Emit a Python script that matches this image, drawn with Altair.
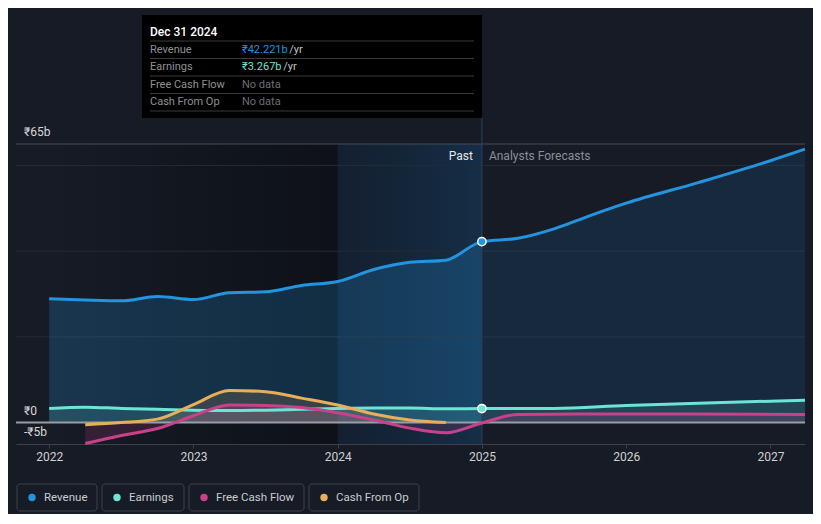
import altair as alt
import pandas as pd

# ---------------- data ----------------
rev_past_years = [2022.0, 2022.25, 2022.5, 2022.75, 2023.0, 2023.25, 2023.5, 2023.75,
                  2024.0, 2024.25, 2024.5, 2024.75, 2025.0]
rev_past = [28.9, 28.6, 28.4, 29.4, 28.7, 30.3, 30.5, 32.0, 32.9, 35.7, 37.4, 37.9, 42.221]
rev_fc_years = [2025.0, 2025.25, 2025.5, 2025.75, 2026.0, 2026.5, 2027.0, 2027.24]
rev_fc = [42.221, 43.0, 45.2, 48.3, 51.2, 56.0, 61.1, 63.8]

earn_years = [2022.0, 2022.25, 2022.5, 2022.75, 2023.0, 2023.25, 2023.5, 2023.75, 2024.0,
              2024.25, 2024.5, 2024.75, 2025.0, 2025.5, 2026.0, 2026.5, 2027.0, 2027.24]
earn = [3.3, 3.6, 3.3, 3.1, 2.9, 2.8, 2.9, 3.1, 3.3, 3.4, 3.4, 3.2, 3.267, 3.3, 4.0, 4.5, 5.0, 5.2]

fcf_years = [2022.25, 2022.5, 2022.75, 2023.0, 2023.25, 2023.5, 2023.75, 2024.0, 2024.25,
             2024.5, 2024.75, 2025.0, 2025.25, 2026.0, 2027.24]
fcf = [-4.9, -3.0, -1.4, 1.6, 4.1, 4.0, 3.5, 2.3, 0.6, -1.3, -2.4, -0.1, 1.9, 2.0, 1.9]

cfo_years = [2022.25, 2022.5, 2022.75, 2023.0, 2023.25, 2023.5, 2023.75, 2024.0, 2024.25,
             2024.5, 2024.75]
cfo = [-0.5, 0.0, 0.8, 4.2, 7.5, 7.2, 5.7, 4.1, 2.0, 0.6, 0.0]

tick_years = [2022, 2023, 2024, 2025, 2026, 2027]
grid_values = [20, 40, 60]
y_label_values = [65, 0, -5]
y_label_texts = ["₹65b", "₹0", "-₹5b"]
series_names = ["Revenue", "Earnings", "Free Cash Flow", "Cash From Op"]
series_colors = ["#2394df", "#6ce5d5", "#c9418a", "#e8ae5c"]
tip_date = "Dec 31 2024"
tip_values = ["₹42.221b", "₹3.267b", "No data", "No data"]
tip_units = [" /yr", " /yr", "", ""]
now_year = 2025.0
now_rev = 42.221
now_earn = 3.267
past_start = 2022.0
band_start = 2024.0

# ---------------- layout ----------------
W, H = 789, 300
X_DOMAIN = [2021.77, 2027.24]
Y_DOMAIN = [-5, 65]
BG = "#161b26"
FONT = "Roboto"

xscale = alt.Scale(domain=X_DOMAIN, nice=False, zero=False)
yscale = alt.Scale(domain=Y_DOMAIN, nice=False, zero=False)
xaxis = alt.Axis(values=tick_years, format="d", labelColor="#d0d0d0", labelFontSize=12,
                 labelFont=FONT, domainColor="#3d424a", tickColor="#3d424a", tickSize=4,
                 labelPadding=3, grid=False, title=None, labelFlush=False)


def X(field):
    return alt.X(f"{field}:Q", scale=xscale, axis=xaxis, title=None)


def Y(field):
    return alt.Y(f"{field}:Q", scale=yscale, axis=None, title=None)


def frame(years, vals):
    return pd.DataFrame({"year": years, "value": vals, "base": [0.0] * len(years)})


rev_p = frame(rev_past_years, rev_past)
rev_f = frame(rev_fc_years, rev_fc)
rev_all = frame(rev_past_years + rev_fc_years[1:], rev_past + rev_fc[1:])
earn_df = frame(earn_years, earn)
fcf_df = frame(fcf_years, fcf)
cfo_df = frame(cfo_years, cfo)

# background bands
dark_grad = alt.LinearGradient(gradient="linear", x1=0, x2=1, y1=0, y2=0,
                               stops=[alt.GradientStop(color="rgba(0,0,0,0.0)", offset=0),
                                      alt.GradientStop(color="rgba(0,0,0,0.38)", offset=1)])
blue_grad = alt.LinearGradient(gradient="linear", x1=0, x2=1, y1=0, y2=0,
                               stops=[alt.GradientStop(color="rgba(10,50,85,0.22)", offset=0),
                                      alt.GradientStop(color="rgba(20,80,130,0.36)", offset=1)])
band_df1 = pd.DataFrame({"x0": [past_start], "x1": [band_start]})
band_df2 = pd.DataFrame({"x0": [band_start], "x1": [now_year]})
band1 = alt.Chart(band_df1).mark_rect(fill=dark_grad).encode(
    x=X("x0"), x2="x1", y=alt.value(0), y2=alt.value(H))
band2 = alt.Chart(band_df2).mark_rect(fill=blue_grad).encode(
    x=X("x0"), x2="x1", y=alt.value(0), y2=alt.value(H))

grid = alt.Chart(pd.DataFrame({"v": grid_values})).mark_rule(color="#262b34", strokeWidth=1).encode(
    y=Y("v"), x=alt.value(0), x2=alt.value(W))
top_rule = alt.Chart(pd.DataFrame({"v": [Y_DOMAIN[1]]})).mark_rule(color="#474c54", strokeWidth=1).encode(
    y=Y("v"), x=alt.value(0), x2=alt.value(W))
zero_rule = alt.Chart(pd.DataFrame({"v": [0]})).mark_rule(color="#9a9da2", strokeWidth=2).encode(
    y=Y("v"), x=alt.value(0), x2=alt.value(W))


def area(df, color, op):
    return alt.Chart(df).mark_area(color=color, opacity=op, interpolate="monotone").encode(
        x=X("year"), y=Y("value"), y2="base")


def line(df, color, w=3):
    return alt.Chart(df).mark_line(color=color, strokeWidth=w, interpolate="monotone").encode(
        x=X("year"), y=Y("value"))


areas = [
    area(rev_p, series_colors[0], 0.22),
    area(rev_f, series_colors[0], 0.12),
    area(earn_df, series_colors[1], 0.15),
    area(cfo_df, series_colors[3], 0.16),
    area(fcf_df, series_colors[2], 0.18),
]

now_rule = alt.Chart(pd.DataFrame({"x": [now_year]})).mark_rule(color="#27445f", strokeWidth=1).encode(
    x=X("x"), y=alt.value(-26), y2=alt.value(H))

lines = [
    line(earn_df, series_colors[1]),
    line(rev_all, series_colors[0]),
    line(cfo_df, series_colors[3]),
    line(fcf_df, series_colors[2]),
]

pts_df = pd.DataFrame({"year": [now_year, now_year], "value": [now_rev, now_earn],
                       "c": [series_colors[0], series_colors[1]]})
pts = alt.Chart(pts_df).mark_point(filled=True, size=70, stroke="white", strokeWidth=1.5, opacity=1).encode(
    x=X("year"), y=Y("value"), fill=alt.Fill("c:N", scale=None))

past_txt = alt.Chart(pd.DataFrame({"x": [now_year], "t": ["Past"]})).mark_text(
    align="right", baseline="middle", dx=-9, font=FONT, fontSize=12, color="#e8e8e8").encode(
    x=X("x"), y=alt.value(12), text="t:N")
fc_txt = alt.Chart(pd.DataFrame({"x": [now_year], "t": ["Analysts Forecasts"]})).mark_text(
    align="left", baseline="middle", dx=7, font=FONT, fontSize=12, color="#8a8f96").encode(
    x=X("x"), y=alt.value(12), text="t:N")

ylab = alt.Chart(pd.DataFrame({"v": y_label_values, "t": y_label_texts})).mark_text(
    align="left", baseline="alphabetic", dy=-8, font=FONT, fontSize=12, color="#d8d8d8").encode(
    y=Y("v"), x=alt.value(8), text="t:N")

# ---------------- tooltip ----------------
TIP_L, TIP_R, TIP_T, TIP_B = 126, 466, -129, -26
tip_box = alt.Chart(pd.DataFrame({"a": [0]})).mark_rect(color="#000000").encode(
    x=alt.value(TIP_L), x2=alt.value(TIP_R), y=alt.value(TIP_T), y2=alt.value(TIP_B))
sep_df = pd.DataFrame({"py": [TIP_T + 26 + i * 17.5 for i in range(5)]})
tip_seps = alt.Chart(sep_df).mark_rule(color="#3a3a3a", strokeWidth=1).encode(
    y=alt.Y("py:Q", scale=None, axis=None), x=alt.value(TIP_L + 8), x2=alt.value(TIP_R - 8))
tip_head = alt.Chart(pd.DataFrame({"t": [tip_date]})).mark_text(
    align="left", baseline="middle", font=FONT, fontSize=12, fontWeight=500, color="#ffffff").encode(
    x=alt.value(TIP_L + 8), y=alt.value(TIP_T + 17), text="t:N")
rows_df = pd.DataFrame({
    "label": series_names,
    "value": tip_values,
    "unit": tip_units,
    "vc": [series_colors[0], series_colors[1], "#6b6e73", "#6b6e73"],
    "py": [TIP_T + 35 + i * 17.4 for i in range(4)],
    "ux": [TIP_L + 100 + len(v) * 5.9 for v in tip_values],
})
tip_labels = alt.Chart(rows_df).mark_text(
    align="left", baseline="middle", font=FONT, fontSize=11, color="#8e9196").encode(
    x=alt.value(TIP_L + 8), y=alt.Y("py:Q", scale=None, axis=None), text="label:N")
tip_vals = alt.Chart(rows_df).mark_text(
    align="left", baseline="middle", font=FONT, fontSize=11).encode(
    x=alt.value(TIP_L + 100), y=alt.Y("py:Q", scale=None, axis=None), text="value:N",
    color=alt.Color("vc:N", scale=None))
tip_units_m = alt.Chart(rows_df).mark_text(
    align="left", baseline="middle", font=FONT, fontSize=11, color="#c0c0c0").encode(
    x=alt.X("ux:Q", scale=None, axis=None), y=alt.Y("py:Q", scale=None, axis=None), text="unit:N")

# ---------------- legend ----------------
leg_left = [1, 86, 173, 293]
leg_w = [80, 82, 115, 110]
leg_df = pd.DataFrame({
    "name": series_names,
    "c": series_colors,
    "x0": leg_left,
    "x1": [l + w for l, w in zip(leg_left, leg_w)],
    "dx": [l + 15 for l in leg_left],
    "tx": [l + 27 for l in leg_left],
})
LEG_T, LEG_B = 340, 367
leg_box = alt.Chart(leg_df).mark_rect(fillOpacity=0, stroke="#3d424a", strokeWidth=1, cornerRadius=3).encode(
    x=alt.X("x0:Q", scale=None, axis=None), x2="x1:Q", y=alt.value(LEG_T), y2=alt.value(LEG_B))
leg_dot = alt.Chart(leg_df).mark_circle(size=55, opacity=1).encode(
    x=alt.X("dx:Q", scale=None, axis=None), y=alt.value((LEG_T + LEG_B) / 2),
    color=alt.Color("c:N", scale=None))
leg_txt = alt.Chart(leg_df).mark_text(align="left", baseline="middle", font=FONT, fontSize=11.5,
                                      color="#c8ccd0").encode(
    x=alt.X("tx:Q", scale=None, axis=None), y=alt.value((LEG_T + LEG_B) / 2), text="name:N")

chart = alt.layer(
    band1, band2, grid, top_rule, *areas, zero_rule, now_rule, *lines, pts,
    past_txt, fc_txt, ylab,
    tip_box, tip_seps, tip_head, tip_labels, tip_vals, tip_units_m,
    leg_box, leg_dot, leg_txt,
).properties(
    width=W, height=H,
    autosize=alt.AutoSizeParams(type="none"),
    padding={"left": 8, "top": 136, "right": 8, "bottom": 70},
).configure(background=BG).configure_view(stroke=None)

chart.save("out.html", embed_options={"renderer": "svg", "actions": False})
